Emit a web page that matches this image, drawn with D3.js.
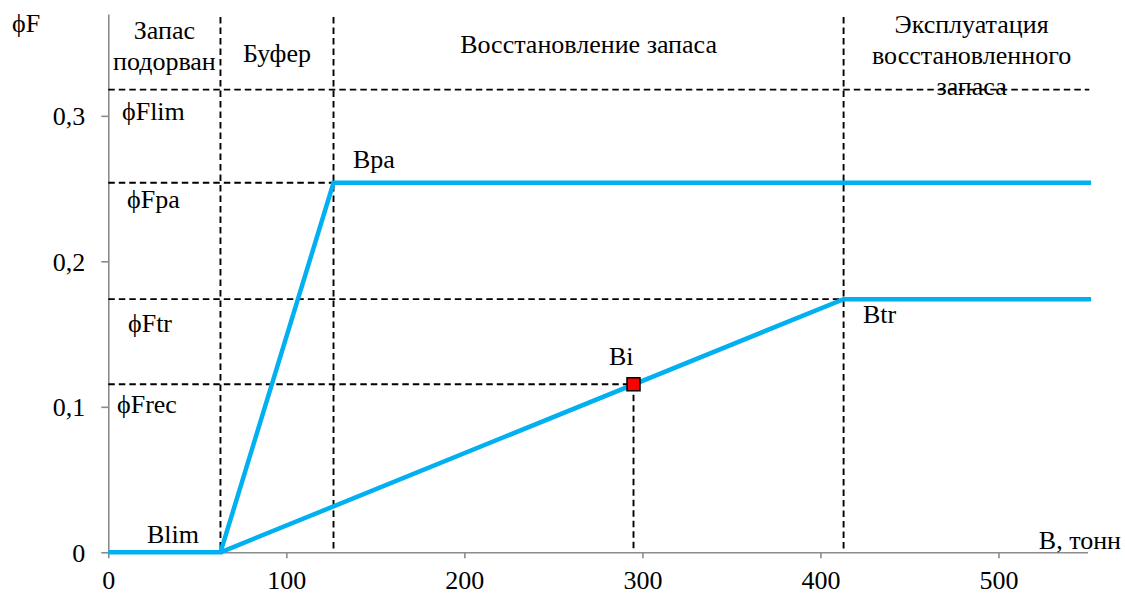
<!DOCTYPE html>
<html><head><meta charset="utf-8">
<script src="https://cdn.jsdelivr.net/npm/d3@7"></script>
<style>
html,body{margin:0;padding:0;background:#fff;}
</style></head>
<body>
<svg id="chart" width="1125" height="594"></svg>
<script>
// ---- data ----
const xTicks = [0, 100, 200, 300, 400, 500];
const yTicks = [0, 0.1, 0.2, 0.3];
const yTickLabels = ["0", "0,1", "0,2", "0,3"];
const xDomain = [0, 550];
const yDomain = [0, 0.37];
const refB = { Blim: 63, Bpa: 126.5, Bi: 295, Btr: 413 };
const refF = { Flim: 0.318, Fpa: 0.254, Ftr: 0.174, Frec: 0.1155 };
const paLine = [[0, 0], [63, 0], [126.5, 0.254], [552, 0.254]];
const trLine = [[63, 0], [413, 0.174], [552, 0.174]];
const biPoint = [295, 0.1155];
const zoneLabels = [
  ["Запас", "подорван"],
  ["Буфер"],
  ["Восстановление запаса"],
  ["Эксплуатация", "восстановленного", "запаса"]
];
const fLabels = ["ϕFlim", "ϕFpa", "ϕFtr", "ϕFrec"];
const bLabels = ["Blim", "Bpa", "Bi", "Btr"];
const yTitle = "ϕF";
const xTitle = "B, тонн";

// ---- drawing ----
const FONT = '"Liberation Serif", "Times New Roman", serif';
const FS = 26;
const svg = d3.select("#chart");
const x = d3.scaleLinear().domain(xDomain).range([108.3, 1087.5]);
const y = d3.scaleLinear().domain(yDomain).range([552.3, 14]);
const axisColor = "#8c8c8c";
const dash = "6.5,4";

// axes
const xAxis = svg.append("g").attr("transform", `translate(0,${y(0)})`)
  .call(d3.axisBottom(x).tickValues(xTicks).tickSize(6).tickSizeOuter(0).tickFormat(d3.format("d")));
const yAxis = svg.append("g").attr("transform", `translate(${x(0)},0)`)
  .call(d3.axisLeft(y).tickValues(yTicks).tickSize(7).tickSizeOuter(0).tickFormat((d, i) => yTickLabels[i]));
[xAxis, yAxis].forEach(g => {
  g.attr("font-family", null).attr("font-size", null);
  g.select(".domain").attr("stroke", axisColor).attr("stroke-width", 1.6);
  g.selectAll(".tick line").attr("stroke", axisColor).attr("stroke-width", 1.6);
  g.selectAll(".tick text").style("font-family", FONT).style("font-size", FS + "px").attr("fill", "#000");
});
xAxis.selectAll(".tick text").attr("dy", null).attr("y", 37);
yAxis.selectAll(".tick text").attr("x", -23).attr("dy", "0.35em");

// dashed reference lines
const dashG = svg.append("g").attr("stroke", "#000").attr("stroke-width", 1.9).attr("stroke-dasharray", dash).attr("fill", "none");
[refB.Blim, refB.Bpa, refB.Btr].forEach(b => {
  dashG.append("line").attr("x1", x(b)).attr("x2", x(b)).attr("y1", y(0.368)).attr("y2", y(0));
});
dashG.append("line").attr("x1", x(refB.Bi)).attr("x2", x(refB.Bi)).attr("y1", y(biPoint[1])).attr("y2", y(0));
dashG.append("line").attr("x1", x(0)).attr("x2", x(551)).attr("y1", y(refF.Flim)).attr("y2", y(refF.Flim));
dashG.append("line").attr("x1", x(0)).attr("x2", x(refB.Bpa)).attr("y1", y(refF.Fpa)).attr("y2", y(refF.Fpa));
dashG.append("line").attr("x1", x(0)).attr("x2", x(refB.Btr)).attr("y1", y(refF.Ftr)).attr("y2", y(refF.Ftr));
dashG.append("line").attr("x1", x(0)).attr("x2", x(refB.Bi)).attr("y1", y(refF.Frec)).attr("y2", y(refF.Frec));

// blue lines
const line = d3.line().x(d => x(d[0])).y(d => y(d[1]));
[paLine, trLine].forEach(ln => {
  svg.append("path").datum(ln).attr("d", line)
    .attr("fill", "none").attr("stroke", "#00B0F0").attr("stroke-width", 4.5).attr("stroke-linejoin", "miter");
});

// Bi point
svg.append("rect").attr("x", x(biPoint[0]) - 6.5).attr("y", y(biPoint[1]) - 6.5)
  .attr("width", 13).attr("height", 13).attr("fill", "#FF0000").attr("stroke", "#000").attr("stroke-width", 1.5);

// text helper
function txt(t, px, py, anchor) {
  svg.append("text").attr("x", px).attr("y", py)
    .style("font-family", FONT).style("font-size", FS + "px").attr("fill", "#000")
    .attr("text-anchor", anchor || "start").text(t);
}

// zone labels
const zoneCenters = [
  (x(0) + x(refB.Blim)) / 2,
  (x(refB.Blim) + x(refB.Bpa)) / 2,
  (x(refB.Bpa) + x(refB.Btr)) / 2,
  (x(refB.Btr) + x(xDomain[1])) / 2 + 6
];
const zoneTop = [39, 62, 53, 33];
zoneLabels.forEach((lines, i) => {
  lines.forEach((l, j) => txt(l, zoneCenters[i], zoneTop[i] + j * 31, "middle"));
});

// F labels
txt(fLabels[0], 122, 120);
txt(fLabels[1], 127, 208);
txt(fLabels[2], 128, 332);
txt(fLabels[3], 117, 413);

// B labels
txt(bLabels[0], 147, 543);
txt(bLabels[1], 353, 168);
txt(bLabels[2], 609, 365);
txt(bLabels[3], 863, 323);

// titles
txt(yTitle, 12, 32);
txt(xTitle, 1121, 549, "end");
</script>
</body></html>
